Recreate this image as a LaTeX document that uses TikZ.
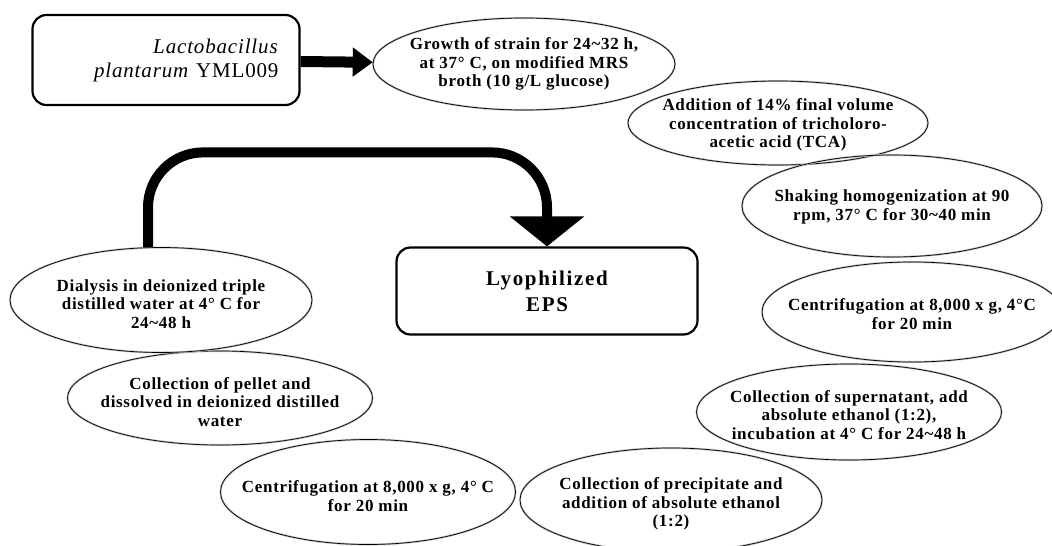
\documentclass[tikz,border=0pt]{standalone}
\usepackage{fontspec}
\setmainfont{Liberation Serif}
\newfontfamily\stepfont[LetterSpace=4]{Liberation Serif}
\newfontfamily\widefont[LetterSpace=8]{Liberation Serif}
\usetikzlibrary{arrows.meta, positioning, shapes.geometric}

\tikzset{
  stage/.style={ellipse, draw=black, line width=0.7pt, inner sep=0pt,
                preaction={draw=black!25, line width=2pt}},
  stagetext/.style={align=center, inner sep=0pt,
                    font=\stepfont\bfseries\fontsize{17}{18.5}\selectfont},
  endbox/.style={draw, line width=2.2pt, rounded corners=14pt},
  flow/.style={-{Triangle[length=20pt, width=28pt]}, line width=11pt},
  backline/.style={-{Triangle[length=30pt, width=73pt]}, line width=10pt,
                   rounded corners=55pt},
}

\begin{document}
\begin{tikzpicture}[x=1pt, y=-1pt]
  \useasboundingbox (0,0) rectangle (1052,546);
  \clip (0,0) rectangle (1052,546);

  % Strain and product boxes
  \node[endbox, minimum width=267pt, minimum height=90pt, text width=225pt,
        align=right, font=\stepfont\fontsize{21}{24}\selectfont]
        (lacto) at (166,60) {\textit{Lactobacillus}\\\textit{plantarum} YML009};
  \node[endbox, minimum width=301pt, minimum height=87pt, align=center,
        font=\widefont\bfseries\fontsize{21}{26}\selectfont]
        (lyo) at (547,291) {Lyophilized\\EPS};

  % Ellipse outlines of the steps
  \foreach \nm/\x/\y/\w/\h in {grow/524/64/302/92, tca/778/123/300/84,
      shake/892/206/300/102, cent1/912/312/300/100, super/849/412/305/96,
      precip/671/500/302/104, cent2/368/492/295/105, pellet/220/398/305/94,
      dialysis/161/300/302/105} {
    \node[stage, minimum width=\w pt, minimum height=\h pt] (\nm) at (\x,\y) {};
  }

  % Step texts
  \node[stagetext] (grow-t) at (grow) {Growth of strain for 24\textasciitilde32 h,\\at 37° C, on modified MRS\\broth (10 g/L glucose)};
  \node[stagetext] (tca-t) at ([yshift=-2pt]tca) {Addition of 14\% final volume\\concentration of tricholoro-\\acetic acid (TCA)};
  \node[stagetext] (shake-t) at ([yshift=-1pt]shake) {Shaking homogenization at 90\\rpm, 37° C for 30\textasciitilde40 min};
  \node[stagetext] (cent1-t) at ([yshift=-2pt]cent1) {Centrifugation at 8,000 x g, 4°C\\for 20 min};
  \node[stagetext] (super-t) at ([yshift=-3pt]super) {Collection of supernatant, add\\absolute ethanol (1:2),\\incubation at 4° C for 24\textasciitilde48 h};
  \node[stagetext] (precip-t) at ([yshift=-4pt]precip) {Collection of precipitate and\\addition of absolute ethanol\\(1:2)};
  \node[stagetext] (cent2-t) at ([yshift=-4pt]cent2) {Centrifugation at 8,000 x g, 4° C\\for 20 min};
  \node[stagetext] (pellet-t) at ([yshift=-4pt]pellet) {Collection of pellet and\\dissolved in deionized distilled\\water};
  \node[stagetext] (dialysis-t) at ([yshift=-4pt]dialysis) {Dialysis in deionized triple\\distilled water at 4° C for\\24\textasciitilde48 h};

  % Arrows
  \draw[flow] (lacto) -- (grow);
  \draw[backline] ([xshift=-13pt]dialysis.north) |- ([yshift=94pt]lyo.north) -- (lyo.north);
\end{tikzpicture}
\end{document}
